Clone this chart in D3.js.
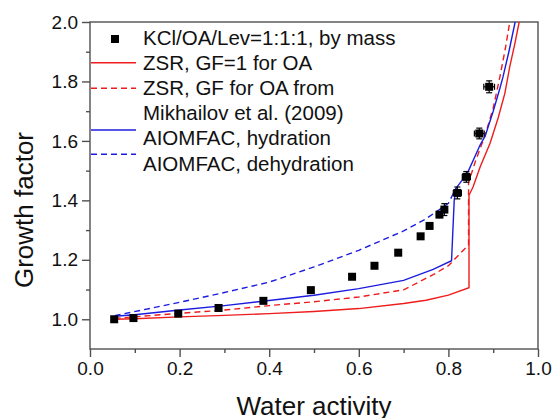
<!DOCTYPE html>
<html>
<head>
<meta charset="utf-8">
<script src="https://cdn.jsdelivr.net/npm/d3@7"></script>
<style>
  body { margin: 0; background: #fff; }
  svg { display: block; font-family: "Liberation Sans", Arial, sans-serif; }
</style>
</head>
<body>
<svg id="chart" width="553" height="418"></svg>
<script>
// measured points
var aw  = [0.054, 0.097, 0.197, 0.287, 0.387, 0.493, 0.585, 0.635, 0.688, 0.738, 0.758, 0.780, 0.791, 0.820, 0.840, 0.869, 0.891];
var gf  = [1.000, 1.004, 1.019, 1.038, 1.062, 1.098, 1.143, 1.180, 1.224, 1.279, 1.314, 1.352, 1.369, 1.425, 1.479, 1.625, 1.782];
var awErr = [0.002, 0.002, 0.002, 0.002, 0.002, 0.002, 0.002, 0.003, 0.004, 0.004, 0.005, 0.008, 0.008, 0.009, 0.009, 0.011, 0.012];
var gfErr = [0.004, 0.004, 0.004, 0.004, 0.004, 0.005, 0.005, 0.006, 0.006, 0.008, 0.008, 0.012, 0.02, 0.02, 0.018, 0.018, 0.02];

// model curves [aw, GF]
var zsrGf1 = [[0.055,1.000],[0.1,1.002],[0.2,1.008],[0.3,1.013],[0.4,1.019],[0.5,1.026],[0.6,1.036],[0.7,1.053],[0.75,1.064],[0.8,1.081],[0.846,1.106],
  [0.846,1.417],[0.855,1.445],[0.871,1.513],[0.893,1.592],[0.911,1.677],[0.926,1.760],[0.937,1.850],[0.948,1.925],[0.958,2.0]];
var zsrMikh = [[0.055,1.003],[0.2,1.020],[0.3,1.031],[0.4,1.046],[0.5,1.059],[0.6,1.075],[0.7,1.099],[0.766,1.150],[0.8,1.180],[0.835,1.235],[0.845,1.25],
  [0.845,1.46],[0.86,1.53],[0.882,1.62],[0.9,1.71],[0.915,1.816],[0.927,1.91],[0.937,2.0]];
var aiomHyd = [[0.055,1.010],[0.1,1.015],[0.2,1.031],[0.3,1.046],[0.4,1.063],[0.5,1.081],[0.6,1.103],[0.7,1.131],[0.766,1.168],[0.807,1.197],
  [0.813,1.400],[0.817,1.441],[0.842,1.490],[0.871,1.587],[0.882,1.616],[0.9,1.700],[0.915,1.777],[0.922,1.816],[0.935,1.900],[0.949,2.0]];
var aiomDehyd = [[0.055,1.012],[0.2,1.057],[0.3,1.090],[0.4,1.125],[0.5,1.176],[0.6,1.232],[0.7,1.297],[0.75,1.338],[0.8,1.390],[0.817,1.441]];

var xTicks = [0.0, 0.2, 0.4, 0.6, 0.8, 1.0];
var xMinor = [0.1, 0.3, 0.5, 0.7, 0.9];
var yTicks = [1.0, 1.2, 1.4, 1.6, 1.8, 2.0];
var yMinor = [1.1, 1.3, 1.5, 1.7, 1.9];

var legendLabels = ["KCl/OA/Lev=1:1:1, by mass", "ZSR, GF=1 for OA", "ZSR, GF for OA from", "Mikhailov et al. (2009)", "AIOMFAC, hydration", "AIOMFAC, dehydration"];

var RED = "#ee1c1c", BLUE = "#1c1ce0", AX = "#505050";

var svg = d3.select("#chart");
var x = d3.scaleLinear().domain([0, 1]).range([90, 538]);
var y = d3.scaleLinear().domain([0.9, 2.0]).range([349, 22]);

// frame
svg.append("rect").attr("x", 90).attr("y", 22).attr("width", 448).attr("height", 327)
  .attr("fill", "none").attr("stroke", AX).attr("stroke-width", 1.4);

function styleAxis(g) {
  g.select(".domain").remove();
  g.selectAll("line").attr("stroke", AX).attr("stroke-width", 1.4);
  g.selectAll("text").attr("fill", "#111").style("font-size", "19px");
}
svg.append("g").attr("transform", "translate(0,349)")
  .call(d3.axisBottom(x).tickValues(xTicks).tickSize(8).tickPadding(5).tickFormat(d3.format(".1f")))
  .call(styleAxis);
svg.append("g").attr("transform", "translate(0,349)")
  .call(d3.axisBottom(x).tickValues(xMinor).tickSize(4).tickFormat(""))
  .call(styleAxis);
svg.append("g").attr("transform", "translate(90,0)")
  .call(d3.axisLeft(y).tickValues(yTicks).tickSize(8).tickPadding(4).tickFormat(d3.format(".1f")))
  .call(styleAxis);
svg.append("g").attr("transform", "translate(90,0)")
  .call(d3.axisLeft(y).tickValues(yMinor).tickSize(4).tickFormat(""))
  .call(styleAxis);

// axis titles
svg.append("text").attr("x", 314).attr("y", 415).attr("text-anchor", "middle")
  .style("font-size", "26px").attr("fill", "#111").text("Water activity");
svg.append("text").attr("transform", "translate(33,210) rotate(-90)").attr("text-anchor", "middle")
  .style("font-size", "26px").attr("fill", "#111").text("Growth factor");

var line = d3.line().x(function(d){ return x(d[0]); }).y(function(d){ return y(d[1]); });
var plot = svg.append("g");
function curve(data, color, dash) {
  plot.append("path").attr("d", line(data)).attr("fill", "none")
    .attr("stroke", color).attr("stroke-width", 1.4)
    .attr("stroke-dasharray", dash ? "6,4" : null);
}
curve(zsrGf1, RED, false);
curve(zsrMikh, RED, true);
curve(aiomHyd, BLUE, false);
curve(aiomDehyd, BLUE, true);

// error bars + squares
var pts = aw.map(function(a, i){ return {x: a, y: gf[i], ex: awErr[i], ey: gfErr[i]}; });
var eb = plot.append("g").attr("stroke", "#000").attr("stroke-width", 1.2);
pts.forEach(function(p){
  var cx = x(p.x), cy = y(p.y);
  var x0 = x(p.x - p.ex), x1 = x(p.x + p.ex), y0 = y(p.y - p.ey), y1 = y(p.y + p.ey);
  eb.append("line").attr("x1", x0).attr("x2", x1).attr("y1", cy).attr("y2", cy);
  eb.append("line").attr("x1", cx).attr("x2", cx).attr("y1", y0).attr("y2", y1);
  if (x1 - x0 > 8) {
    eb.append("line").attr("x1", x0).attr("x2", x0).attr("y1", cy - 3).attr("y2", cy + 3);
    eb.append("line").attr("x1", x1).attr("x2", x1).attr("y1", cy - 3).attr("y2", cy + 3);
  }
  if (y0 - y1 > 8) {
    eb.append("line").attr("x1", cx - 3).attr("x2", cx + 3).attr("y1", y0).attr("y2", y0);
    eb.append("line").attr("x1", cx - 3).attr("x2", cx + 3).attr("y1", y1).attr("y2", y1);
  }
});
plot.selectAll("rect.pt").data(pts).enter().append("rect").attr("class", "pt")
  .attr("x", function(d){ return x(d.x) - 4; }).attr("y", function(d){ return y(d.y) - 4; })
  .attr("width", 8).attr("height", 8).attr("fill", "#000");

// legend
var lg = svg.append("g");
lg.append("rect").attr("x", 111).attr("y", 35).attr("width", 8).attr("height", 8).attr("fill", "#000");
var lineRows = [[62.7, RED, false], [88.3, RED, true], [130, BLUE, false], [154.3, BLUE, true]];
lineRows.forEach(function(r){
  lg.append("line").attr("x1", 91).attr("x2", 136).attr("y1", r[0]).attr("y2", r[0])
    .attr("stroke", r[1]).attr("stroke-width", 1.4).attr("stroke-dasharray", r[2] ? "6,4" : null);
});
lg.selectAll("text").data(legendLabels).enter().append("text")
  .attr("x", 143).attr("y", function(d, i){ return 44.5 + i * 25.2; })
  .style("font-size", "20.5px").attr("fill", "#111").text(function(d){ return d; });
</script>
</body>
</html>
